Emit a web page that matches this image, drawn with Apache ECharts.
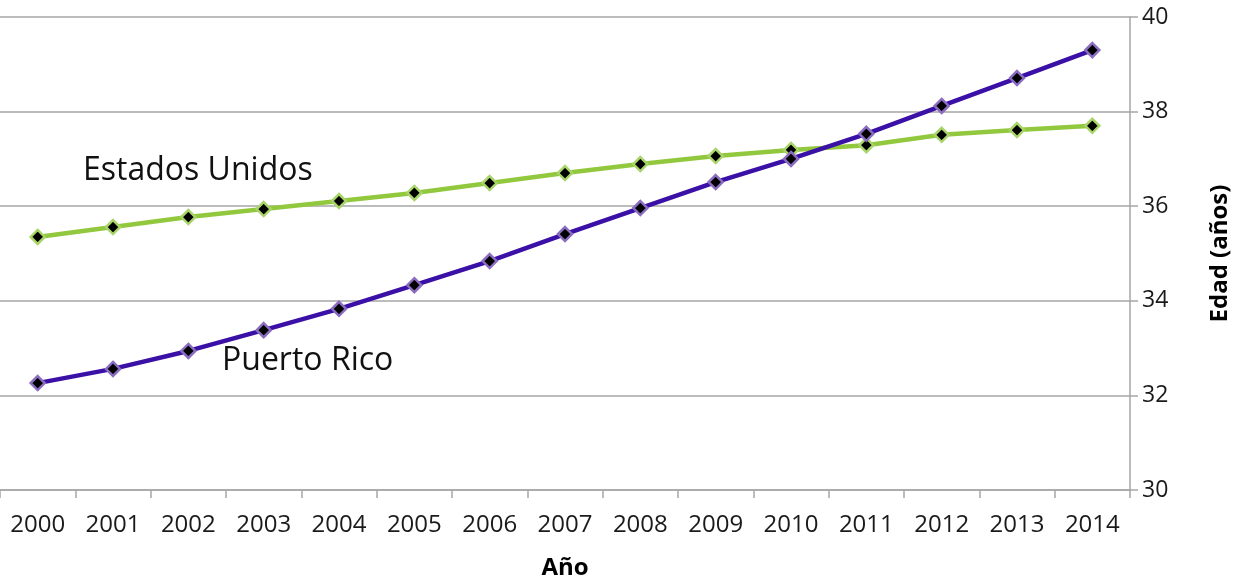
<!DOCTYPE html>
<html>
<head>
<meta charset="utf-8">
<script src="https://cdn.jsdelivr.net/npm/echarts@6/dist/echarts.min.js"></script>
<style>html,body{margin:0;padding:0;background:#fff}#c{width:1234px;height:583px}</style>
</head>
<body>
<div id="c"></div>
<script>
const years = ['2000','2001','2002','2003','2004','2005','2006','2007','2008','2009','2010','2011','2012','2013','2014'];
const estadosUnidos = [35.35,35.56,35.77,35.94,36.11,36.28,36.49,36.70,36.89,37.06,37.19,37.29,37.51,37.61,37.70];
const puertoRico = [32.26,32.56,32.94,33.38,33.83,34.33,34.84,35.41,35.96,36.51,37.00,37.53,38.12,38.71,39.30];
const yTicks = [30,32,34,36,38,40];

const font = 'Open Sans';
const chart = echarts.init(document.getElementById('c'));
chart.setOption({
  animation: false,
  backgroundColor: '#fff',
  grid: {left: 0, right: 104, top: 17, bottom: 93, containLabel: false, outerBoundsMode: 'none'},
  xAxis: {
    type: 'category', data: years, boundaryGap: true,
    name: 'Año', nameLocation: 'middle', nameGap: 66,
    nameTextStyle: {fontFamily: font, fontSize: 24, fontWeight: 'bold', color: '#000'},
    axisLine: {lineStyle: {color: '#a6a6a6', width: 1.5}},
    axisTick: {show: true, length: 8, inside: false, alignWithLabel: false, lineStyle: {color: '#a6a6a6', width: 1.5}},
    axisLabel: {fontFamily: font, fontSize: 24, color: '#1a1a1a', margin: 23}
  },
  yAxis: {
    type: 'value', position: 'right', min: yTicks[0], max: yTicks[yTicks.length-1], interval: 2,
    name: 'Edad (años)', nameLocation: 'middle', nameGap: 78, nameRotate: 90,
    nameTextStyle: {fontFamily: font, fontSize: 24, fontWeight: 'bold', color: '#000'},
    axisLine: {show: true, lineStyle: {color: '#a6a6a6', width: 1.5}},
    axisTick: {show: true, length: 8, lineStyle: {color: '#a6a6a6', width: 1.5}},
    axisLabel: {fontFamily: font, fontSize: 23, color: '#1a1a1a', margin: 12},
    splitLine: {show: true, lineStyle: {color: '#a6a6a6', width: 1.5}}
  },
  series: [
    {
      name: 'Estados Unidos', type: 'line', data: estadosUnidos,
      symbol: 'diamond', symbolSize: 14,
      lineStyle: {color: '#92c83e', width: 4.5},
      itemStyle: {color: '#000', borderColor: '#a8d468', borderWidth: 2.5}
    },
    {
      name: 'Puerto Rico', type: 'line', data: puertoRico,
      symbol: 'diamond', symbolSize: 14,
      lineStyle: {color: '#3a10a6', width: 4.5},
      itemStyle: {color: '#000', borderColor: '#8a6cc0', borderWidth: 2.5}
    }
  ],
  graphic: [
    {type: 'text', left: 83, top: 155, style: {text: 'Estados Unidos', font: '32px "Open Sans"', fill: '#111'}},
    {type: 'text', left: 222, top: 345, style: {text: 'Puerto Rico', font: '32px "Open Sans"', fill: '#111'}}
  ]
});
</script>
</body>
</html>
